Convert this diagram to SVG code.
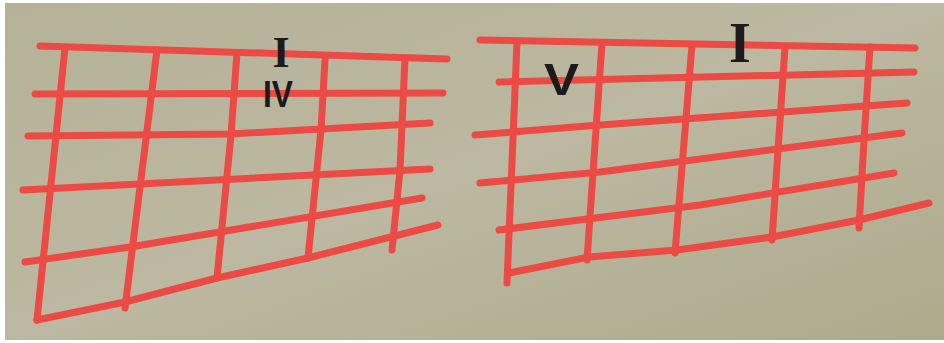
<svg xmlns="http://www.w3.org/2000/svg" width="944" height="343" viewBox="0 0 944 343">
<style>
.r{fill:none;stroke:#ec4a44;stroke-width:7;stroke-linecap:round;stroke-linejoin:round}
.s{font-family:"Liberation Serif",serif;font-weight:bold;fill:#1c1a1a}
.a{font-family:"Liberation Sans",sans-serif;font-weight:bold;fill:#1c1a1a}
</style>
<defs>
<linearGradient id="bg" x1="0" y1="0" x2="1" y2="1">
<stop offset="0" stop-color="#b6b297"/>
<stop offset="0.5" stop-color="#bcb8a1"/>
<stop offset="1" stop-color="#aeaa8c"/>
</linearGradient>
</defs>
<rect width="944" height="343" fill="#ffffff"/>
<rect x="5" y="3" width="939" height="337" fill="url(#bg)"/>
<g id="grid-left">
<polyline class="r" points="40,46 447,59"/>
<polyline class="r" points="35,94 443,93"/>
<polyline class="r" points="28,136 230,134 430,123"/>
<polyline class="r" points="23,190 430,169"/>
<polyline class="r" points="25,262 130,247 422,198"/>
<polyline class="r" points="37,320 125,302 217,278 308,258 438,225"/>
<polyline class="r" points="65,48 37,320"/>
<polyline class="r" points="157,50 125,308"/>
<polyline class="r" points="237,53 231,135 217,278"/>
<polyline class="r" points="325,60 321,130 308,258"/>
<polyline class="r" points="405,58 400,170 392,250"/>
</g>
<g id="grid-right">
<polyline class="r" points="480,40 915,48"/>
<polyline class="r" points="499,82 914,72"/>
<polyline class="r" points="475,135 600,125 907,103"/>
<polyline class="r" points="480,183 600,172 902,133"/>
<polyline class="r" points="499,230 700,205 894,173"/>
<polyline class="r" points="509,273 589,257 677,250 772,237 859,220 929,203"/>
<polyline class="r" points="517,42 507,283"/>
<polyline class="r" points="602,43 587,260"/>
<polyline class="r" points="692,45 675,253"/>
<polyline class="r" points="785,47 778,150 772,240"/>
<polyline class="r" points="870,47 864,140 859,228"/>
</g>
<g id="labels">
<text class="s" x="281" y="67" font-size="44" text-anchor="middle">I</text>
<text class="a" x="263" y="107" font-size="36" textLength="30" lengthAdjust="spacingAndGlyphs">IV</text>
<text class="a" x="544" y="95" font-size="44" textLength="35" lengthAdjust="spacingAndGlyphs">V</text>
<text class="s" x="740" y="62" font-size="56" text-anchor="middle">I</text>
</g>
</svg>
